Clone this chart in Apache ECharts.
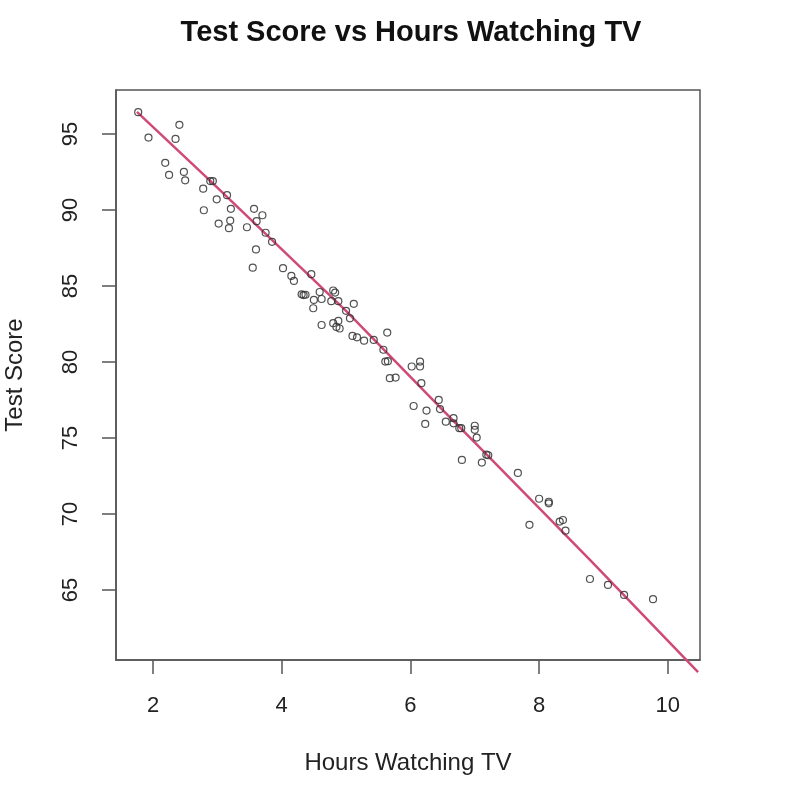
<!DOCTYPE html>
<html>
<head>
<meta charset="utf-8">
<script src="https://cdn.jsdelivr.net/npm/echarts@6/dist/echarts.min.js"></script>
<style>
  html, body { margin: 0; padding: 0; background: #fff; }
  #main { width: 798px; height: 812px; }
</style>
</head>
<body>
<div id="main"></div>
<script>
var hours = [1.77, 2.41, 1.93, 2.35, 2.19, 2.25, 2.48, 2.50, 2.89, 2.93, 2.78, 2.99, 3.15, 2.79, 3.21, 3.02, 3.20, 3.18, 3.46, 3.57,
  3.70, 3.61, 3.75, 3.85, 3.60, 3.55, 4.02, 4.15, 4.19, 4.46, 4.31, 4.34, 4.37, 4.59, 4.62, 4.50, 4.49, 4.80, 4.83, 4.77,
  4.88, 5.00, 5.06, 5.12, 4.62, 4.80, 4.88, 4.90, 4.85, 5.10, 5.17, 5.28, 5.43, 5.64, 5.58, 5.61, 5.65, 6.15, 6.15, 6.02,
  5.68, 5.77, 6.17, 6.05, 6.25, 6.44, 6.46, 6.23, 6.55, 6.67, 6.67, 6.76, 6.79, 7.00, 7.00, 7.03, 7.18, 7.21, 6.80, 7.11,
  7.67, 8.00, 8.15, 8.15, 7.85, 8.32, 8.37, 8.41, 8.79, 9.07, 9.32, 9.77];
var scores = [96.43, 95.6, 94.76, 94.67, 93.1, 92.3, 92.5, 91.95, 91.9, 91.9, 91.4, 90.7, 90.97, 89.98, 90.07, 89.1, 89.3, 88.8, 88.86, 90.07,
  89.65, 89.26, 88.5, 87.9, 87.4, 86.2, 86.17, 85.66, 85.33, 85.77, 84.45, 84.4, 84.42, 84.6, 84.14, 84.08, 83.53, 84.7, 84.56, 84.0,
  84.0, 83.36, 82.87, 83.82, 82.43, 82.55, 82.7, 82.2, 82.3, 81.71, 81.62, 81.4, 81.45, 81.93, 80.8, 80.02, 80.05, 80.02, 79.7, 79.7,
  78.93, 78.97, 78.6, 77.1, 76.8, 77.5, 76.9, 75.92, 76.07, 76.3, 75.96, 75.64, 75.64, 75.8, 75.53, 75.02, 73.9, 73.86, 73.55, 73.38,
  72.7, 71.0, 70.8, 70.7, 69.28, 69.5, 69.6, 68.9, 65.72, 65.33, 64.67, 64.39];

// hand drawn fit line (pen annotation on the plot)
var lineHours = [1.75, 2.89, 5.00, 6.50, 7.19, 8.79, 10.47];
var lineScores = [96.45, 91.91, 83.36, 76.84, 73.88, 66.97, 59.6];

var xTicks = [2, 4, 6, 8, 10];
var yTicks = [65, 70, 75, 80, 85, 90, 95];

var font = 'Liberation Sans, Arial, Helvetica, sans-serif';
var axisColor = '#555';

var points = hours.map(function (h, i) { return [h, scores[i]]; });
var fitLine = lineHours.map(function (h, i) { return [h, lineScores[i]]; });

var chart = echarts.init(document.getElementById('main'));

var option = {
  backgroundColor: '#fff',
  animation: false,
  title: {
    text: 'Test Score vs Hours Watching TV',
    left: 406,
    top: 13,
    textAlign: 'center',
    textStyle: { fontFamily: font, fontSize: 29, fontWeight: 'bold', color: '#111' }
  },
  grid: {
    left: 116, right: 98, top: 90, bottom: 152,
    outerBoundsMode: 'none',
    show: true, borderColor: axisColor, borderWidth: 1.5, backgroundColor: 'transparent'
  },
  xAxis: {
    type: 'value',
    min: 1.425, max: 10.5,
    name: 'Hours Watching TV',
    nameLocation: 'middle',
    nameGap: 91,
    nameTextStyle: { fontFamily: font, fontSize: 24, color: '#222' },
    axisLine: { show: true, lineStyle: { color: axisColor, width: 1.5 } },
    axisTick: { show: true, length: 14, customValues: xTicks, lineStyle: { color: axisColor, width: 1.5 } },
    axisLabel: { customValues: xTicks, margin: 35, fontFamily: font, fontSize: 22, color: '#222' },
    splitLine: { show: false }
  },
  yAxis: {
    type: 'value',
    min: 60.39, max: 97.89,
    name: 'Test Score',
    nameLocation: 'middle',
    nameGap: 89,
    nameRotate: 90,
    nameTextStyle: { fontFamily: font, fontSize: 24, color: '#222' },
    axisLine: { show: true, lineStyle: { color: axisColor, width: 1.5 } },
    axisTick: { show: true, length: 14, customValues: yTicks, lineStyle: { color: axisColor, width: 1.5 } },
    axisLabel: { customValues: yTicks, margin: 34, rotate: 90, fontFamily: font, fontSize: 22, color: '#222' },
    splitLine: { show: false }
  },
  series: [
    {
      type: 'line',
      data: fitLine,
      showSymbol: false,
      clip: false,
      z: 3,
      lineStyle: { color: '#d04a76', width: 2.5 }
    },
    {
      type: 'scatter',
      data: points,
      symbol: 'circle',
      symbolSize: 7,
      z: 4,
      itemStyle: { color: 'rgba(0,0,0,0)', borderColor: '#333', borderWidth: 1.2, opacity: 0.85 }
    }
  ]
};

chart.setOption(option);
</script>
</body>
</html>
